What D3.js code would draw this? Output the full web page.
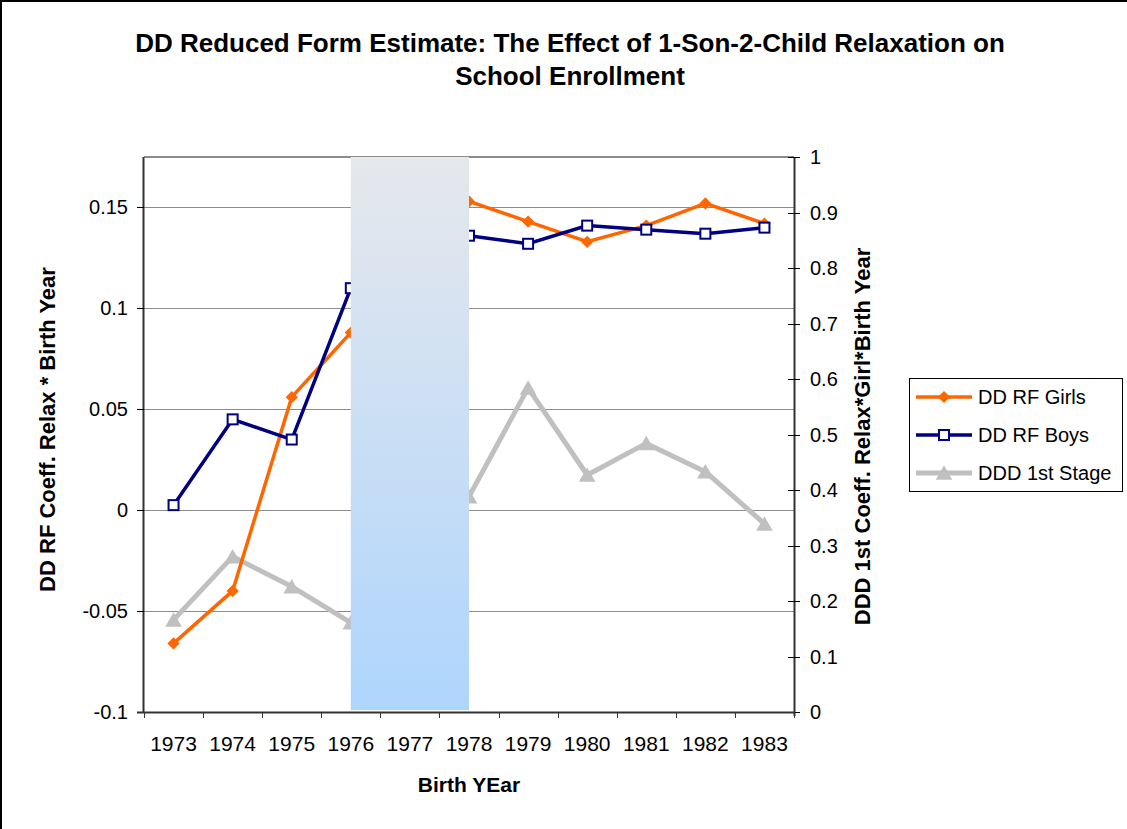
<!DOCTYPE html>
<html>
<head>
<meta charset="utf-8">
<script src="https://cdn.jsdelivr.net/npm/d3@7"></script>
<style>
  body { margin: 0; background: #fff; }
  svg text { font-family: "Liberation Sans", Arial, sans-serif; fill: #000; }
</style>
</head>
<body>
<svg id="graph" width="1127" height="829"></svg>
<script>
// chart data (1977 is hidden under the shaded band)
const years = [1973, 1974, 1975, 1976, 1977, 1978, 1979, 1980, 1981, 1982, 1983];
const girls = [-0.066, -0.040, 0.056, 0.088, null, 0.153, 0.143, 0.133, 0.141, 0.152, 0.142];
const boys = [0.0025, 0.045, 0.035, 0.110, null, 0.136, 0.132, 0.141, 0.139, 0.137, 0.140];
const firstStage = [0.166, 0.280, 0.226, 0.161, null, 0.388, 0.584, 0.427, 0.484, 0.433, 0.339];
const shadedYears = [1976, 1978];
const leftTicks = [-0.1, -0.05, 0, 0.05, 0.1, 0.15];
const rightTicks = [0, 0.1, 0.2, 0.3, 0.4, 0.5, 0.6, 0.7, 0.8, 0.9, 1];
const seriesNames = ["DD RF Girls", "DD RF Boys", "DDD 1st Stage"];

const svg = d3.select("#graph");
const margin = { top: 157, left: 144, right: 333, bottom: 117 };
const width = 1127, height = 829;
const x0 = margin.left, x1 = width - margin.right;
const y0 = height - margin.bottom, y1 = margin.top;

// outer frame
svg.append("rect")
    .attr("x", 1).attr("y", 1)
    .attr("width", width + 10).attr("height", height + 10)
    .attr("fill", "none").attr("stroke", "#000").attr("stroke-width", 2);

// title
const title = svg.append("text")
    .attr("text-anchor", "middle")
    .style("font-weight", "bold")
    .style("font-size", "26px");
title.append("tspan").attr("x", 570).attr("y", 52)
    .text("DD Reduced Form Estimate: The Effect of 1-Son-2-Child Relaxation on");
title.append("tspan").attr("x", 570).attr("y", 85)
    .text("School Enrollment");

// scales
const x = d3.scaleBand().domain(years).range([x0, x1]).padding(0);
const cx = d => x(d) + x.bandwidth() / 2;
const yL = d3.scaleLinear().domain([-0.1, 0.175]).range([y0, y1]);
const yR = d3.scaleLinear().domain([0, 1]).range([y0, y1]);

// gridlines
svg.append("g").selectAll("line")
    .data(leftTicks.filter(t => t > -0.1))
    .enter().append("line")
      .attr("x1", x0).attr("x2", x1)
      .attr("y1", d => Math.round(yL(d)) + 0.5)
      .attr("y2", d => Math.round(yL(d)) + 0.5)
      .attr("stroke", "#8c8c8c").attr("stroke-width", 1);

// plot area top border
svg.append("line")
    .attr("x1", x0).attr("x2", x1).attr("y1", y1).attr("y2", y1)
    .attr("stroke", "#8c8c8c").attr("stroke-width", 2);

// series lines
const lineL = d3.line()
    .defined(d => d.v !== null)
    .x(d => cx(d.year)).y(d => yL(d.v));
const lineR = d3.line()
    .defined(d => d.v !== null)
    .x(d => cx(d.year)).y(d => yR(d.v));

const girlsData = years.map((year, i) => ({ year, v: girls[i] }));
const boysData = years.map((year, i) => ({ year, v: boys[i] }));
const stageData = years.map((year, i) => ({ year, v: firstStage[i] }));

svg.append("path").datum(stageData)
    .attr("d", lineR).attr("fill", "none")
    .attr("stroke", "#c0c0c0").attr("stroke-width", 5).attr("stroke-linejoin", "round");
svg.append("g").selectAll("path")
    .data(stageData.filter(d => d.v !== null))
    .enter().append("path")
      .attr("d", d3.symbol(d3.symbolTriangle, 120))
      .attr("transform", d => `translate(${cx(d.year)},${yR(d.v) + 2})`)
      .attr("fill", "#c0c0c0");

svg.append("path").datum(girlsData)
    .attr("d", lineL).attr("fill", "none")
    .attr("stroke", "#ff6600").attr("stroke-width", 3.5);
svg.append("g").selectAll("path")
    .data(girlsData.filter(d => d.v !== null))
    .enter().append("path")
      .attr("d", d3.symbol(d3.symbolSquare, 75))
      .attr("transform", d => `translate(${cx(d.year)},${yL(d.v)}) rotate(45)`)
      .attr("fill", "#ff6600");

svg.append("path").datum(boysData)
    .attr("d", lineL).attr("fill", "none")
    .attr("stroke", "#000080").attr("stroke-width", 3.5);
svg.append("g").selectAll("rect")
    .data(boysData.filter(d => d.v !== null))
    .enter().append("rect")
      .attr("x", d => cx(d.year) - 5).attr("y", d => yL(d.v) - 5)
      .attr("width", 10).attr("height", 10)
      .attr("fill", "#fff").attr("stroke", "#000080").attr("stroke-width", 2);

// shaded band (drawn on top of the series)
const grad = svg.append("defs").append("linearGradient")
    .attr("id", "shade").attr("x1", 0).attr("y1", 0).attr("x2", 0).attr("y2", 1);
grad.append("stop").attr("offset", "0%").attr("stop-color", "#e6e8ec");
grad.append("stop").attr("offset", "100%").attr("stop-color", "#aed5fd");

svg.append("rect")
    .attr("x", cx(shadedYears[0]))
    .attr("y", y1)
    .attr("width", cx(shadedYears[1]) - cx(shadedYears[0]))
    .attr("height", y0 - y1 - 2)
    .attr("fill", "url(#shade)");

// left axis
svg.append("line")
    .attr("x1", x0 - 0.5).attr("x2", x0 - 0.5).attr("y1", y1).attr("y2", y0)
    .attr("stroke", "#333").attr("stroke-width", 2);
const gL = svg.append("g").selectAll("g").data(leftTicks).enter().append("g");
gL.append("line")
    .attr("x1", x0 - 7).attr("x2", x0)
    .attr("y1", d => Math.round(yL(d)) + 0.5).attr("y2", d => Math.round(yL(d)) + 0.5)
    .attr("stroke", "#000");
gL.append("text")
    .attr("x", x0 - 16).attr("y", d => yL(d) + 7)
    .attr("text-anchor", "end")
    .style("font-size", "20px")
    .text(d => String(d));

// right axis
svg.append("line")
    .attr("x1", x1 + 0.5).attr("x2", x1 + 0.5).attr("y1", y1).attr("y2", y0 + 4)
    .attr("stroke", "#333").attr("stroke-width", 2);
const gR = svg.append("g").selectAll("g").data(rightTicks).enter().append("g");
gR.append("line")
    .attr("x1", x1 - 6).attr("x2", x1 + 6)
    .attr("y1", d => Math.round(yR(d)) + 0.5).attr("y2", d => Math.round(yR(d)) + 0.5)
    .attr("stroke", "#000");
gR.append("text")
    .attr("x", x1 + 16).attr("y", d => yR(d) + 7)
    .style("font-size", "20px")
    .text(d => String(d));

// bottom axis
svg.append("line")
    .attr("x1", x0 - 7).attr("x2", x1).attr("y1", y0 + 0.5).attr("y2", y0 + 0.5)
    .attr("stroke", "#333").attr("stroke-width", 2);
svg.append("g").selectAll("line")
    .data(years.map(d => x(d)).concat([x1]))
    .enter().append("line")
      .attr("x1", d => Math.round(d) + 0.5).attr("x2", d => Math.round(d) + 0.5)
      .attr("y1", y0).attr("y2", y0 + 6)
      .attr("stroke", "#333");
svg.append("g").selectAll("text")
    .data(years)
    .enter().append("text")
      .attr("x", d => cx(d)).attr("y", 751)
      .attr("text-anchor", "middle")
      .style("font-size", "21px")
      .text(d => d);

// axis titles
svg.append("text")
    .attr("transform", `translate(55,${(y0 + y1) / 2 - 5}) rotate(-90)`)
    .attr("text-anchor", "middle")
    .style("font-weight", "bold").style("font-size", "22px")
    .text("DD RF Coeff. Relax * Birth Year");
svg.append("text")
    .attr("transform", `translate(870,${(y0 + y1) / 2 + 2}) rotate(-90)`)
    .attr("text-anchor", "middle")
    .style("font-weight", "bold").style("font-size", "22px")
    .text("DDD 1st Coeff. Relax*Girl*Birth Year");
svg.append("text")
    .attr("x", 469).attr("y", 792)
    .attr("text-anchor", "middle")
    .style("font-weight", "bold").style("font-size", "21px")
    .text("Birth YEar");

// legend
const legend = svg.append("g").attr("transform", "translate(909,378)");
legend.append("rect")
    .attr("x", 0.5).attr("y", 0.5).attr("width", 213).attr("height", 113)
    .attr("fill", "#fff").attr("stroke", "#000");
const legRows = legend.selectAll("g.row")
    .data(seriesNames)
    .enter().append("g")
      .attr("class", "row")
      .attr("transform", (d, i) => `translate(0,${19 + i * 38})`);
const legColors = ["#ff6600", "#000080", "#c0c0c0"];
legRows.append("line")
    .attr("x1", 7).attr("x2", 63).attr("y1", 0).attr("y2", 0)
    .attr("stroke", (d, i) => legColors[i])
    .attr("stroke-width", (d, i) => i === 2 ? 5 : 3.5);
legRows.each(function(d, i) {
  const row = d3.select(this);
  if (i === 0) {
    row.append("path").attr("d", d3.symbol(d3.symbolSquare, 75))
      .attr("transform", "translate(35,0) rotate(45)").attr("fill", legColors[0]);
  } else if (i === 1) {
    row.append("rect").attr("x", 30).attr("y", -5).attr("width", 10).attr("height", 10)
      .attr("fill", "#fff").attr("stroke", legColors[1]).attr("stroke-width", 2);
  } else {
    row.append("path").attr("d", d3.symbol(d3.symbolTriangle, 120))
      .attr("transform", "translate(35,2)").attr("fill", legColors[2]);
  }
});
legRows.append("text")
    .attr("x", 69).attr("y", 7)
    .style("font-size", "20px")
    .text(d => d);
</script>
</body>
</html>
